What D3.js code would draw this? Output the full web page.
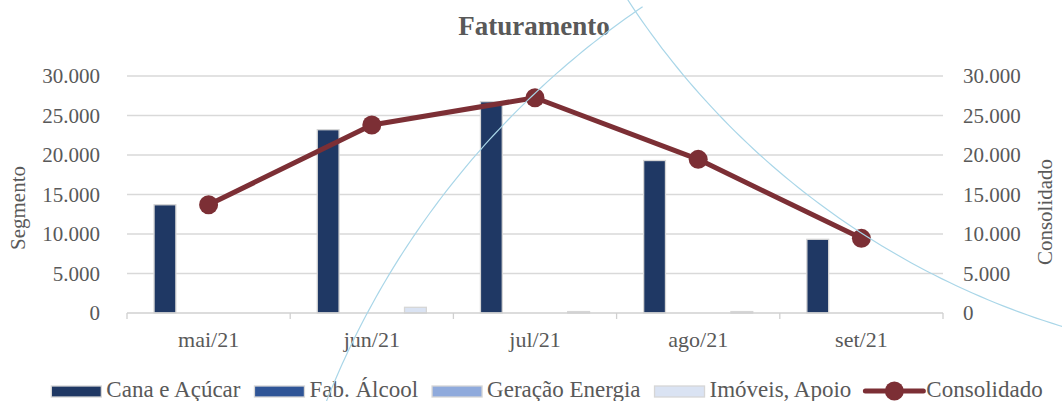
<!DOCTYPE html>
<html>
<head>
<meta charset="utf-8">
<script src="https://cdn.jsdelivr.net/npm/d3@7"></script>
<style>
  body { margin: 0; background: #fff; }
  svg, svg text { font-family: "Liberation Serif", "DejaVu Serif", serif !important; }
</style>
</head>
<body>
<div id="chart"></div>
<script>
// data
var months = ["mai/21", "jun/21", "jul/21", "ago/21", "set/21"];
var series = ["Cana e Açúcar", "Fab. Álcool", "Geração Energia", "Imóveis, Apoio"];
var cana = [13700, 23200, 26750, 19300, 9330];
var fabAlcool = [0, 0, 0, 0, 0];
var geracao = [0, 0, 0, 0, 0];
var imoveis = [0, 720, 180, 180, 0];
var consolidado = [13700, 23800, 27250, 19450, 9450];
var yTicks = [0, 5000, 10000, 15000, 20000, 25000, 30000];

var colors = ["#1f3864", "#2f5597", "#8faadc", "#dae3f3"];
var lineColor = "#7c2f35";
var textColor = "#595959";

var W = 1062, H = 401;
var margin = {top: 76, right: 119, bottom: 88, left: 127},
    width = W - margin.left - margin.right,
    height = H - margin.top - margin.bottom;

var svg = d3.select("#chart").append("svg")
    .attr("width", W)
    .attr("height", H);

svg.append("rect").attr("width", W).attr("height", H).attr("fill", "#fff");

var g = svg.append("g")
    .attr("transform", "translate(" + margin.left + "," + margin.top + ")");

var x0 = d3.scaleBand().domain(months).range([0, width]).padding(0);
var x1 = d3.scaleBand().domain(series).range([0, x0.bandwidth()])
    .paddingInner(0.25).paddingOuter(0.93);
var y = d3.scaleLinear().domain([0, 30000]).range([height, 0]);
var y2 = d3.scaleLinear().domain([0, 30000]).range([height, 0]);

var fmt = function(v) { return d3.format(",")(v).replace(/,/g, "."); };

// gridlines
g.append("g")
  .selectAll("line")
  .data(yTicks.slice(1))
  .enter().append("line")
    .attr("x1", 0).attr("x2", width)
    .attr("y1", function(d) { return y(d); })
    .attr("y2", function(d) { return y(d); })
    .attr("stroke", "#d9d9d9")
    .attr("stroke-width", 1.3);

// left axis
var yAxisL = g.append("g")
    .call(d3.axisLeft(y).tickValues(yTicks).tickFormat(fmt).tickSize(0).tickPadding(27));
yAxisL.select(".domain").remove();
yAxisL.selectAll("text").style("font-size", "21px").style("fill", textColor);

// right axis
var yAxisR = g.append("g")
    .attr("transform", "translate(" + width + ",0)")
    .call(d3.axisRight(y2).tickValues(yTicks).tickFormat(fmt).tickSize(0).tickPadding(20));
yAxisR.select(".domain").remove();
yAxisR.selectAll("text").style("font-size", "21px").style("fill", textColor);

// bars
var rows = months.map(function(m, i) {
  return {month: m, values: [cana[i], fabAlcool[i], geracao[i], imoveis[i]]};
});

var groups = g.selectAll(".grp")
  .data(rows)
  .enter().append("g")
    .attr("class", "grp")
    .attr("transform", function(d) { return "translate(" + x0(d.month) + ",0)"; });

groups.selectAll("rect")
  .data(function(d) { return d.values.map(function(v, k) { return {key: series[k], value: v, k: k}; }); })
  .enter().filter(function(d) { return d.value > 0; })
  .append("rect")
    .attr("x", function(d) { return x1(d.key); })
    .attr("width", x1.bandwidth())
    .attr("y", function(d) { return y(d.value); })
    .attr("height", function(d) { return height - y(d.value); })
    .attr("fill", function(d) { return colors[d.k]; })
    .attr("stroke", "#d6d6d6")
    .attr("stroke-width", 1.3);

// bottom axis
var xAxis = g.append("g")
    .attr("transform", "translate(0," + height + ")");
xAxis.append("line")
    .attr("x1", 0).attr("x2", width)
    .attr("stroke", "#d0d0d0").attr("stroke-width", 1.3);
xAxis.selectAll(".tk")
  .data(d3.range(months.length + 1))
  .enter().append("line")
    .attr("x1", function(i) { return i * x0.step(); })
    .attr("x2", function(i) { return i * x0.step(); })
    .attr("y1", 0).attr("y2", 6)
    .attr("stroke", "#d0d0d0").attr("stroke-width", 1.3);
xAxis.selectAll(".lbl")
  .data(months)
  .enter().append("text")
    .attr("x", function(d) { return x0(d) + x0.bandwidth() / 2; })
    .attr("y", 34)
    .attr("text-anchor", "middle")
    .style("font-size", "22px")
    .style("fill", textColor)
    .text(function(d) { return d; });

// consolidado line
var line = d3.line()
    .x(function(d, i) { return x0(months[i]) + x0.bandwidth() / 2; })
    .y(function(d) { return y2(d); });

g.append("path")
    .datum(consolidado)
    .attr("fill", "none")
    .attr("stroke", lineColor)
    .attr("stroke-width", 5)
    .attr("stroke-linejoin", "round")
    .attr("d", line);

g.selectAll(".dot")
  .data(consolidado)
  .enter().append("circle")
    .attr("class", "dot")
    .attr("cx", function(d, i) { return x0(months[i]) + x0.bandwidth() / 2; })
    .attr("cy", function(d) { return y2(d); })
    .attr("r", 9.5)
    .attr("fill", lineColor);

// title
svg.append("text")
    .attr("x", 534)
    .attr("y", 35)
    .attr("text-anchor", "middle")
    .style("font-size", "27px")
    .style("font-weight", "bold")
    .style("fill", textColor)
    .text("Faturamento");

// axis titles
svg.append("text")
    .attr("transform", "translate(25,208) rotate(-90)")
    .attr("text-anchor", "middle")
    .style("font-size", "21px")
    .style("fill", textColor)
    .text("Segmento");

svg.append("text")
    .attr("transform", "translate(1052,212) rotate(-90)")
    .attr("text-anchor", "middle")
    .style("font-size", "21px")
    .style("fill", textColor)
    .text("Consolidado");

// legend
var legendItems = series.map(function(s, k) { return {name: s, type: "bar", color: colors[k]}; });
legendItems.push({name: "Consolidado", type: "line", color: lineColor});

var legend = svg.append("g").attr("transform", "translate(0,397)");
var lx = 0;
var items = legend.selectAll(".leg")
  .data(legendItems)
  .enter().append("g")
    .attr("class", "leg");

items.each(function(d) {
  var it = d3.select(this);
  if (d.type === "bar") {
    it.append("rect")
      .attr("x", 0).attr("y", -11)
      .attr("width", 50).attr("height", 11)
      .attr("fill", d.color)
      .attr("stroke", "#d6d6d6").attr("stroke-width", 1.3);
  } else {
    it.append("line")
      .attr("x1", 0).attr("x2", 58).attr("y1", -6).attr("y2", -6)
      .attr("stroke", d.color).attr("stroke-width", 5).attr("stroke-linecap", "round");
    it.append("circle")
      .attr("cx", 29).attr("cy", -6).attr("r", 9.5).attr("fill", d.color);
  }
  var t = it.append("text")
    .attr("x", d.type === "bar" ? 55 : 61)
    .attr("y", 0)
    .style("font-size", "23px")
    .style("fill", textColor)
    .text(d.name);
  d.w = (d.type === "bar" ? 55 : 61) + t.node().getComputedTextLength();
});

var gap = 14;
var total = d3.sum(legendItems, function(d) { return d.w; }) + gap * (legendItems.length - 1);
lx = 547 - total / 2;
items.attr("transform", function(d) {
  var tx = lx;
  lx += d.w + gap;
  return "translate(" + tx + ",0)";
});

// thin light blue arcs crossing the picture (background decoration)
var deco = svg.append("g").attr("fill", "none").attr("stroke", "#a9d6e8").attr("stroke-width", 1.2);
function arcPath(cx, cy, r, a0, a1) {
  var pts = d3.range(0, 101).map(function(i) {
    var a = a0 + (a1 - a0) * i / 100;
    return [cx + r * Math.cos(a), cy + r * Math.sin(a)];
  });
  return d3.line()(pts);
}
deco.append("path").attr("d", arcPath(1126, 718, 860, Math.PI * 1.06, Math.PI * 1.31));
deco.append("path").attr("d", arcPath(1294, -434, 795, Math.PI * 0.50, Math.PI * 0.84));
</script>
</body>
</html>
